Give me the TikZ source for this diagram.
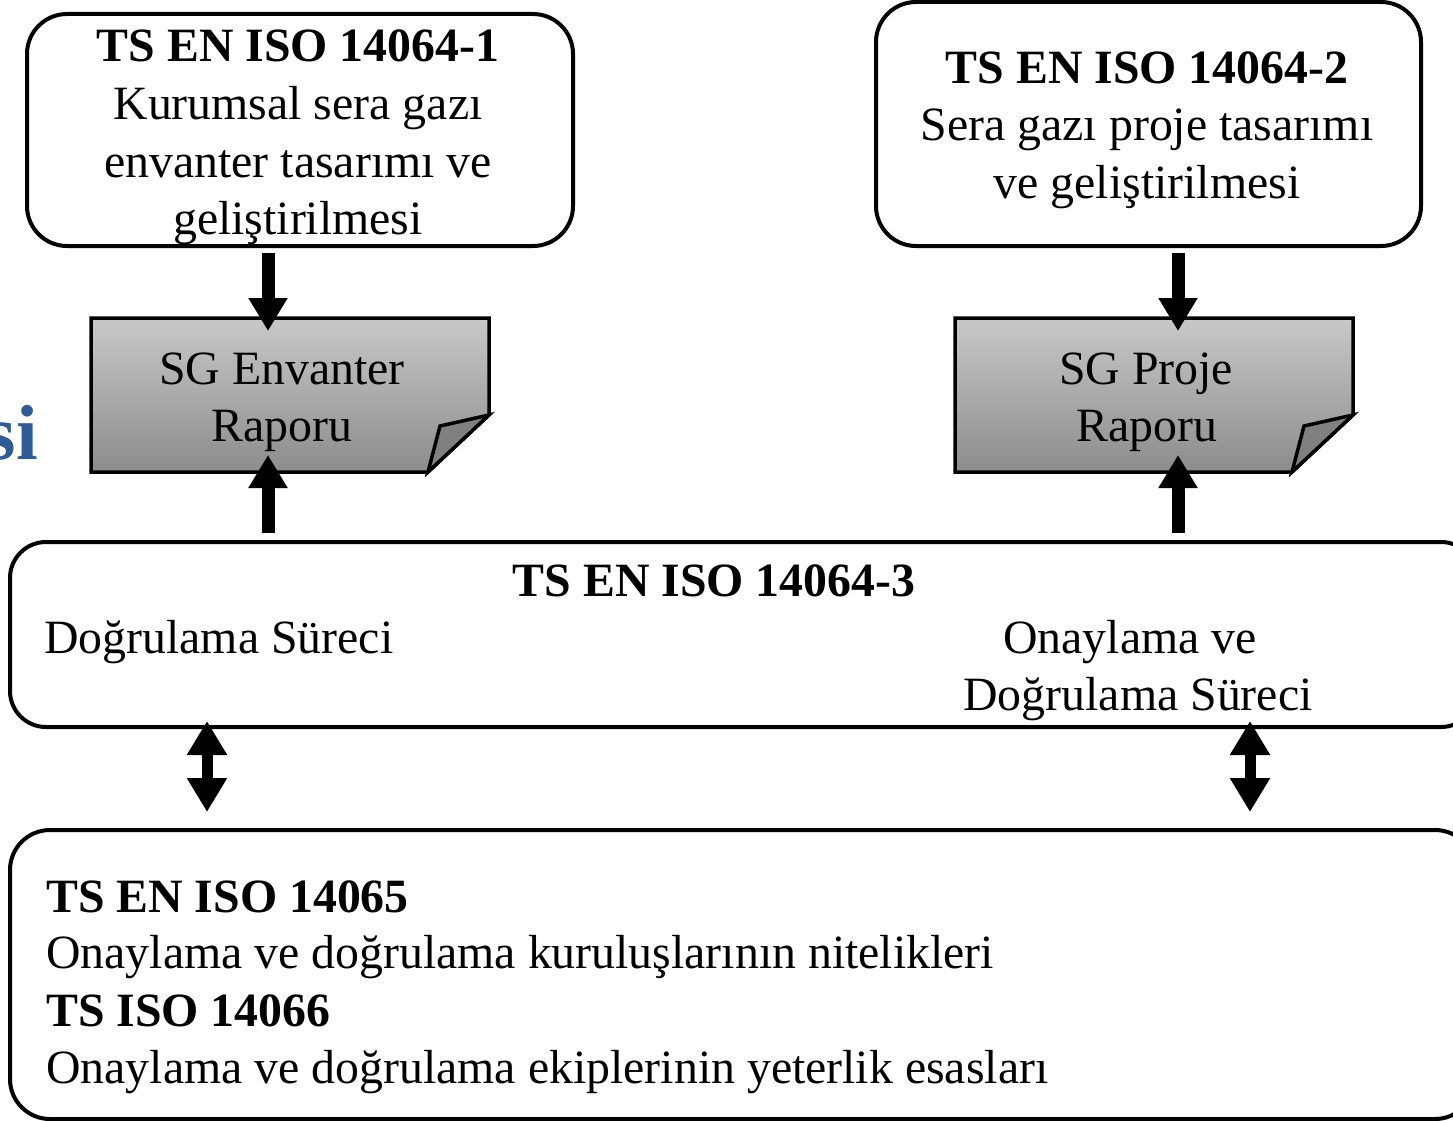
\documentclass[tikz,border=0pt]{standalone}
\usepackage{fontspec}
\setmainfont{Liberation Serif}
\usetikzlibrary{arrows.meta}
\definecolor{titleblue}{RGB}{47,92,150}
\definecolor{doctop}{RGB}{200,200,200}
\definecolor{docbot}{RGB}{140,140,140}
\definecolor{flapgray}{RGB}{128,128,128}
\begin{document}
\begin{tikzpicture}[x=1pt,y=-1pt,
  roundbox/.style={draw=black, line width=4pt, rounded corners=40pt, fill=white, inner sep=0pt},
  txt/.style={font=\fontsize{47.8}{57}\selectfont, inner sep=0pt, anchor=base},
  txtb/.style={txt, font=\fontsize{47.8}{57}\selectfont\bfseries},
  txtl/.style={txt, anchor=base west},
  txtlb/.style={txtb, anchor=base west},
  blockarrow/.style={line width=13pt, -{Triangle[width=37pt,length=33pt]}},
  dblarrow/.style={line width=11pt, {Triangle[width=38pt,length=34pt]}-{Triangle[width=38pt,length=34pt]}},
  docline/.style={draw=black, line width=3.5pt, line join=miter}
]
\useasboundingbox (0,0) rectangle (1453,1121);

% partial blue title text at the left edge
\node[font=\fontsize{78}{90}\selectfont\bfseries, text=titleblue, inner sep=0pt, anchor=base east] (ttl) at (38,459) {si};

% top boxes
\node[roundbox, minimum width=546pt, minimum height=232pt] (box1) at (300,130) {};
\node[roundbox, minimum width=545pt, minimum height=244pt] (box2) at (1148.5,124) {};

% document shapes
\shade[top color=doctop, bottom color=docbot] (91,318) -- (489,318) -- (489,415) -- (428,472) -- (91,472) -- cycle;
\draw[docline] (91,318) -- (489,318) -- (489,415) -- (428,472) -- (91,472) -- cycle;
\draw[docline, fill=flapgray] (489,415) -- (440,426) -- (428,472) -- cycle;
\shade[top color=doctop, bottom color=docbot] (955,318) -- (1353,318) -- (1353,415) -- (1292,472) -- (955,472) -- cycle;
\draw[docline] (955,318) -- (1353,318) -- (1353,415) -- (1292,472) -- (955,472) -- cycle;
\draw[docline, fill=flapgray] (1353,415) -- (1304,426) -- (1292,472) -- cycle;

% lower boxes
\node[roundbox, rounded corners=36pt, minimum width=1467pt, minimum height=185pt] (box3) at (743.5,634.5) {};
\node[roundbox, minimum width=1465pt, minimum height=289pt] (box4) at (742.5,974.5) {};

% texts box1
\node[txtb] (t1a) at (298,62) {TS EN ISO 14064-1};
\node[txt] (t1b) at (298,120) {Kurumsal sera gazı};
\node[txt] (t1c) at (298,177) {envanter tasarımı ve};
\node[txt] (t1d) at (298,234) {geliştirilmesi};
% texts box2
\node[txtb] (t2a) at (1147,84) {TS EN ISO 14064-2};
\node[txt] (t2b) at (1147,141) {Sera gazı proje tasarımı};
\node[txt] (t2c) at (1147,198) {ve geliştirilmesi};
% doc texts
\node[txt] (d1a) at (282,384) {SG Envanter};
\node[txt] (d1b) at (282,441) {Raporu};
\node[txt] (d2a) at (1146,384) {SG Proje};
\node[txt] (d2b) at (1147,441) {Raporu};
% box3 texts
\node[txtb] (t3a) at (714,596) {TS EN ISO 14064-3};
\node[txtl] (t3b) at (44,653) {Doğrulama Süreci};
\node[txt] (t3c) at (1130,653) {Onaylama ve};
\node[txt] (t3d) at (1138,710) {Doğrulama Süreci};
% box4 texts
\node[txtlb] (t4a) at (46,912) {TS EN ISO 14065};
\node[txtl] (t4b) at (46,968) {Onaylama ve doğrulama kuruluşlarının nitelikleri};
\node[txtlb] (t4c) at (46,1026) {TS ISO 14066};
\node[txtl] (t4d) at (46,1083) {Onaylama ve doğrulama ekiplerinin yeterlik esasları};

% arrow coordinates
\coordinate (a1s) at (268,253);
\coordinate (a1e) at (268,331);
\coordinate (a2s) at (268,533);
\coordinate (a2e) at (268,455);
\coordinate (a3s) at (1178,253);
\coordinate (a3e) at (1178,331);
\coordinate (a4s) at (1178,533);
\coordinate (a4e) at (1178,455);
\coordinate (b1s) at (207,721);
\coordinate (b1e) at (207,812);
\coordinate (b2s) at (1250,721);
\coordinate (b2e) at (1250,812);

\draw[blockarrow] (a1s) -- (a1e);
\draw[blockarrow] (a2s) -- (a2e);
\draw[blockarrow] (a3s) -- (a3e);
\draw[blockarrow] (a4s) -- (a4e);
\draw[dblarrow] (b1s) -- (b1e);
\draw[dblarrow] (b2s) -- (b2e);
\end{tikzpicture}
\end{document}
